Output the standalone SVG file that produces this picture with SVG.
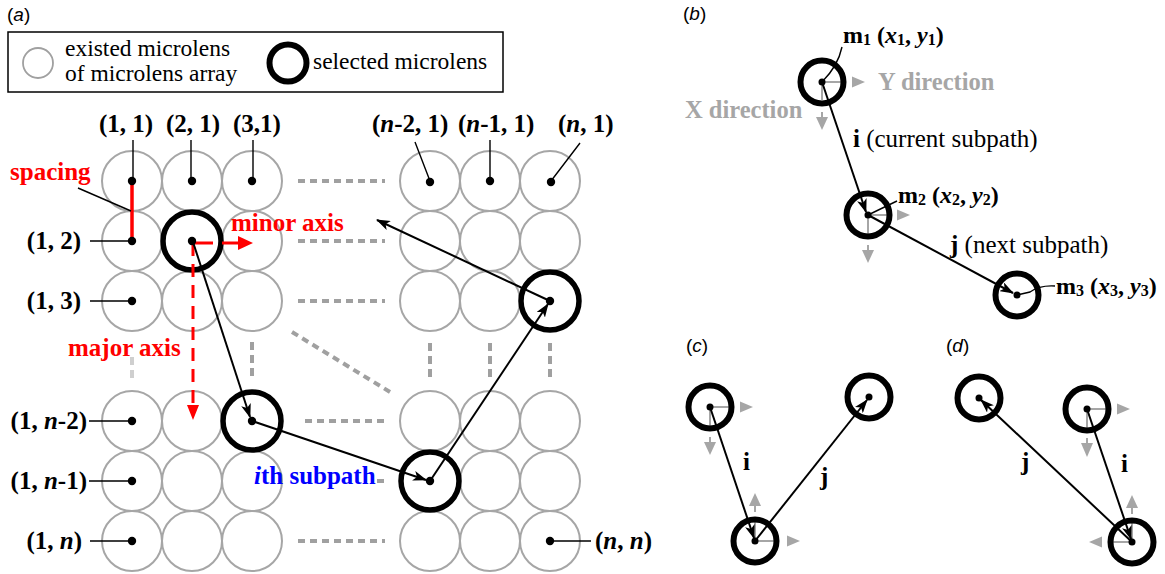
<svg xmlns="http://www.w3.org/2000/svg" width="1165" height="574" viewBox="0 0 1165 574">
<style>
text{font-family:"Liberation Serif","Times New Roman",serif;fill:#000}
.pl{font-family:"Liberation Sans",Arial,sans-serif;font-size:19px}
.lb{font-size:25px;font-weight:bold}
.red{fill:#ff0000}
.gt{fill:#a6a6a6;font-size:24.5px;font-weight:bold}
.leg{font-size:23.5px}
.gc{fill:none;stroke:#a6a6a6;stroke-width:2}
.sc{fill:none;stroke:#000;stroke-width:5.5}
.sc2{fill:none;stroke:#000;stroke-width:6}
.dot{fill:#000}
.ld{stroke:#000;stroke-width:1.4;fill:none}
.ar{stroke:#000;stroke-width:2;fill:none;marker-end:url(#ah)}
.gd{stroke:#a0a0a0;stroke-width:4;stroke-dasharray:7 5;fill:none}
.gv{stroke:#a0a0a0;stroke-width:4;stroke-dasharray:8 5;fill:none}
.ga{stroke:#a6a6a6;stroke-width:2;fill:none}
.gh{fill:#a6a6a6}
</style>
<defs>
<marker id="ah" viewBox="0 0 14 10" refX="13" refY="5" markerWidth="14" markerHeight="10" markerUnits="userSpaceOnUse" orient="auto">
<path d="M0,0 L14,5 L0,10 L3.5,5 z" fill="#000"/>
</marker>
</defs>

<!-- Panel labels -->
<text class="pl" x="7" y="21">(<tspan font-style="italic">a</tspan>)</text>
<text class="pl" x="683" y="20">(<tspan font-style="italic">b</tspan>)</text>
<text class="pl" x="686" y="352">(<tspan font-style="italic">c</tspan>)</text>
<text class="pl" x="946" y="352">(<tspan font-style="italic">d</tspan>)</text>

<!-- Legend -->
<g id="legend">
<rect x="8" y="32" width="495" height="60" fill="none" stroke="#000" stroke-width="1.5"/>
<circle cx="38" cy="63" r="15" fill="none" stroke="#a0a0a0" stroke-width="1.8"/>
<text class="leg" x="65" y="56">existed microlens</text>
<text class="leg" x="65" y="81">of microlens array</text>
<circle cx="288" cy="63" r="18.5" fill="none" stroke="#000" stroke-width="6"/>
<text class="leg" x="313" y="69">selected microlens</text>
</g>

<!-- Grid of microlenses -->
<g id="grid">
<circle class="gc" cx="132" cy="181" r="30"/><circle class="gc" cx="192" cy="181" r="30"/><circle class="gc" cx="252" cy="181" r="30"/>
<circle class="gc" cx="132" cy="241" r="30"/><circle class="gc" cx="192" cy="241" r="30"/><circle class="gc" cx="252" cy="241" r="30"/>
<circle class="gc" cx="132" cy="301" r="30"/><circle class="gc" cx="192" cy="301" r="30"/><circle class="gc" cx="252" cy="301" r="30"/>
<circle class="gc" cx="132" cy="421" r="30"/><circle class="gc" cx="192" cy="421" r="30"/><circle class="gc" cx="252" cy="421" r="30"/>
<circle class="gc" cx="132" cy="481" r="30"/><circle class="gc" cx="192" cy="481" r="30"/><circle class="gc" cx="252" cy="481" r="30"/>
<circle class="gc" cx="132" cy="541" r="30"/><circle class="gc" cx="192" cy="541" r="30"/><circle class="gc" cx="252" cy="541" r="30"/>
<circle class="gc" cx="430" cy="181" r="30"/><circle class="gc" cx="490" cy="181" r="30"/><circle class="gc" cx="550" cy="181" r="30"/>
<circle class="gc" cx="430" cy="241" r="30"/><circle class="gc" cx="490" cy="241" r="30"/><circle class="gc" cx="550" cy="241" r="30"/>
<circle class="gc" cx="430" cy="301" r="30"/><circle class="gc" cx="490" cy="301" r="30"/><circle class="gc" cx="550" cy="301" r="30"/>
<circle class="gc" cx="430" cy="421" r="30"/><circle class="gc" cx="490" cy="421" r="30"/><circle class="gc" cx="550" cy="421" r="30"/>
<circle class="gc" cx="430" cy="481" r="30"/><circle class="gc" cx="490" cy="481" r="30"/><circle class="gc" cx="550" cy="481" r="30"/>
<circle class="gc" cx="430" cy="541" r="30"/><circle class="gc" cx="490" cy="541" r="30"/><circle class="gc" cx="550" cy="541" r="30"/>
</g>

<!-- gray dashed continuation lines -->
<g id="ellipsis">
<path class="gd" d="M298,181 H385 M298,241 H385 M298,301 H385 M305,421 H385 M298,541 H385 M377,481 H384"/>
<path class="gv" d="M252,342 V378 M430,343 V378 M490,343 V378 M550,343 V378"/>
<path class="gv" d="M132,357 V378" stroke="#cfcfcf" style="stroke:#cfcfcf"/>
<path class="gd" d="M292,332 L390,392"/>
</g>

<!-- selected microlenses -->
<g id="sel-1"><circle class="sc" cx="192" cy="241" r="29"/></g>
<g id="sel-2"><circle class="sc" cx="252" cy="421" r="29"/></g>
<g id="sel-3"><circle class="sc" cx="430" cy="481" r="29"/></g>
<g id="sel-4"><circle class="sc" cx="550" cy="301" r="29"/></g>

<!-- red spacing / axes -->
<g id="axes">
<path d="M132,181 V241" stroke="#ff0000" stroke-width="3.5"/>
<path class="ld" d="M78,188 L131,211"/>
<text class="lb red" x="10" y="180">spacing</text>
<path d="M192,243 H213" stroke="#ff0000" stroke-width="3"/>
<path d="M222,243 H240" stroke="#ff0000" stroke-width="3"/>
<polygon points="238,236 253,243 238,250" fill="#ff0000"/>
<text class="lb red" x="231" y="231">minor axis</text>
<path d="M193,243 V407" stroke="#ff0000" stroke-width="3" stroke-dasharray="13 8"/>
<polygon points="187,405 193,420 199,405" fill="#ff0000"/>
<text class="lb red" x="68" y="356">major axis</text>
</g>

<!-- dots -->
<g id="dots">
<circle class="dot" cx="132" cy="181" r="4.2"/><circle class="dot" cx="192" cy="181" r="4.2"/><circle class="dot" cx="252" cy="181" r="4.2"/>
<circle class="dot" cx="430" cy="182" r="4.2"/><circle class="dot" cx="490" cy="181" r="4.2"/><circle class="dot" cx="551" cy="182" r="4.2"/>
<circle class="dot" cx="132" cy="241" r="4.2"/><circle class="dot" cx="192" cy="241" r="4.2"/>
<circle class="dot" cx="132" cy="301" r="4.2"/><circle class="dot" cx="550" cy="301" r="4.2"/>
<circle class="dot" cx="132" cy="421" r="4.2"/><circle class="dot" cx="252" cy="421" r="4.2"/>
<circle class="dot" cx="132" cy="481" r="4.2"/><circle class="dot" cx="430" cy="481" r="4.2"/>
<circle class="dot" cx="132" cy="541" r="4.2"/><circle class="dot" cx="550" cy="541" r="4.2"/>
</g>

<!-- coordinate labels -->
<g id="labels-a">
<path class="ld" d="M133,140 V181 M191,140 V181 M253,140 V181 M415,142 L430,181 M490,140 V181 M580,143 L551,181"/>
<text class="lb" x="99" y="132">(1, 1)</text>
<text class="lb" x="166" y="132">(2, 1)</text>
<text class="lb" x="233" y="132">(3,1)</text>
<text class="lb" x="372" y="132">(<tspan font-style="italic">n</tspan>-2, 1)</text>
<text class="lb" x="458" y="132">(<tspan font-style="italic">n</tspan>-1, 1)</text>
<text class="lb" x="558" y="132">(<tspan font-style="italic">n</tspan>, 1)</text>
<path class="ld" d="M90,241 H132 M90,301 H132 M89,421 H132 M89,481 H132 M90,541 H132 M551,541 H591"/>
<text class="lb" x="81" y="249" text-anchor="end">(1, 2)</text>
<text class="lb" x="81" y="309" text-anchor="end">(1, 3)</text>
<text class="lb" x="87" y="429" text-anchor="end">(1, <tspan font-style="italic">n</tspan>-2)</text>
<text class="lb" x="87" y="489" text-anchor="end">(1, <tspan font-style="italic">n</tspan>-1)</text>
<text class="lb" x="82" y="549" text-anchor="end">(1, <tspan font-style="italic">n</tspan>)</text>
<text class="lb" x="595" y="549">(<tspan font-style="italic">n</tspan>, <tspan font-style="italic">n</tspan>)</text>
<text class="lb" x="254" y="484" fill="#0000ff" style="fill:#0000ff"><tspan font-style="italic">i</tspan>th subpath</text>
</g>

<!-- path connectors panel a -->
<g id="connectors-a">
<path class="ar" d="M193,242 L250,417"/>
<path class="ar" d="M252,421 L426,480"/>
<path class="ar" d="M430,481 L548,304"/>
<path class="ar" d="M550,301 L377,220"/>
</g>

<!-- Panel b -->
<g id="b-m1">
<path class="ga" d="M822,82 H845 M822,82 V100 M822,112 V119"/>
<polygon class="gh" points="852,76.5 865,82 852,87.5"/>
<polygon class="gh" points="816,117 822,130 828,117"/>
<circle class="sc2" cx="822" cy="82" r="21.5"/>
<circle class="dot" cx="822" cy="82" r="3.5"/>
<path class="ld" d="M842,47 Q838,66 822,82"/>
<text class="lb" font-size="24" style="font-size:24px" x="843" y="43">m<tspan font-size="16" dy="2">1</tspan><tspan dy="-2"> (</tspan><tspan font-style="italic">x</tspan><tspan font-size="16" dy="2">1</tspan><tspan dy="-2">, </tspan><tspan font-style="italic">y</tspan><tspan font-size="16" dy="2">1</tspan><tspan dy="-2">)</tspan></text>
</g>
<g id="b-m2">
<path class="ga" d="M868,215 H890 M868,215 V238 M868,245 V251"/>
<polygon class="gh" points="897,209.5 910,215 897,220.5"/>
<polygon class="gh" points="862,250 868,263 874,250"/>
<circle class="sc2" cx="868" cy="215" r="21.5"/>
<circle class="dot" cx="868" cy="215" r="3.5"/>
<path class="ld" d="M897,201 L868,215"/>
<text class="lb" style="font-size:24px" x="898" y="203">m<tspan font-size="16" dy="2">2</tspan><tspan dy="-2"> (</tspan><tspan font-style="italic">x</tspan><tspan font-size="16" dy="2">2</tspan><tspan dy="-2">, </tspan><tspan font-style="italic">y</tspan><tspan font-size="16" dy="2">2</tspan><tspan dy="-2">)</tspan></text>
</g>
<g id="b-m3">
<circle class="sc2" cx="1017" cy="295" r="21.5"/>
<circle class="dot" cx="1017" cy="295" r="3.5"/>
<path class="ld" d="M1055,286 Q1040,285 1030,292 L1017,295"/>
<text class="lb" style="font-size:24px" x="1056" y="294">m<tspan font-size="16" dy="2">3</tspan><tspan dy="-2"> (</tspan><tspan font-style="italic">x</tspan><tspan font-size="16" dy="2">3</tspan><tspan dy="-2">, </tspan><tspan font-style="italic">y</tspan><tspan font-size="16" dy="2">3</tspan><tspan dy="-2">)</tspan></text>
</g>
<text class="gt" x="878" y="90">Y direction</text>
<text class="gt" x="685" y="118">X direction</text>
<g id="connectors-b">
<path class="ar" d="M822,82 L866,212"/>
<path class="ar" d="M868,215 L1013,293"/>
</g>
<text style="font-size:25px" x="853" y="147"><tspan font-weight="bold">i</tspan> (current subpath)</text>
<text style="font-size:25px" x="950" y="253"><tspan font-weight="bold">j</tspan> (next subpath)</text>

<!-- Panel c -->
<g id="c-m1">
<path class="ga" d="M710,407 H730 M710,407 V427 M710,437 V443"/>
<polygon class="gh" points="740,401.5 753,407 740,412.5"/>
<polygon class="gh" points="704,442 710,455 716,442"/>
<circle class="sc2" cx="710" cy="407" r="21.5"/>
<circle class="dot" cx="710" cy="407" r="3.5"/>
</g>
<g id="c-m2">
<path class="ga" d="M755,541 H775 M755,541 V521 M755,505 V512"/>
<polygon class="gh" points="787,535.5 800,541 787,546.5"/>
<polygon class="gh" points="749,506 755,493 761,506"/>
<circle class="sc2" cx="755" cy="541" r="21.5"/>
<circle class="dot" cx="755" cy="541" r="3.5"/>
</g>
<g id="c-m3">
<circle class="sc2" cx="869" cy="397" r="21.5"/>
<circle class="dot" cx="869" cy="397" r="3.5"/>
</g>
<g id="connectors-c">
<path class="ar" d="M710,407 L754,538"/>
<path class="ar" d="M755,541 L867,400"/>
</g>
<text class="lb" x="743" y="470">i</text>
<text class="lb" x="820" y="485">j</text>

<!-- Panel d -->
<g id="d-m1">
<circle class="sc2" cx="979" cy="398" r="21.5"/>
<circle class="dot" cx="979" cy="398" r="3.5"/>
</g>
<g id="d-m2">
<path class="ga" d="M1087,409 H1107 M1087,409 V428 M1087,438 V444"/>
<polygon class="gh" points="1117,403.5 1130,409 1117,414.5"/>
<polygon class="gh" points="1081,443 1087,457 1093,443"/>
<circle class="sc2" cx="1087" cy="409" r="21.5"/>
<circle class="dot" cx="1087" cy="409" r="3.5"/>
</g>
<g id="d-m3">
<path class="ga" d="M1132,542 H1113 M1132,542 V518 M1132,507 V514"/>
<polygon class="gh" points="1102,536.5 1089,542 1102,547.5"/>
<polygon class="gh" points="1126,508 1132,495 1138,508"/>
<circle class="sc2" cx="1132" cy="542" r="21.5"/>
<circle class="dot" cx="1132" cy="542" r="3.5"/>
</g>
<g id="connectors-d">
<path class="ar" d="M1087,409 L1131,539"/>
<path class="ar" d="M1132,542 L981,400"/>
</g>
<text class="lb" x="1121" y="472">i</text>
<text class="lb" x="1021" y="470">j</text>
</svg>
